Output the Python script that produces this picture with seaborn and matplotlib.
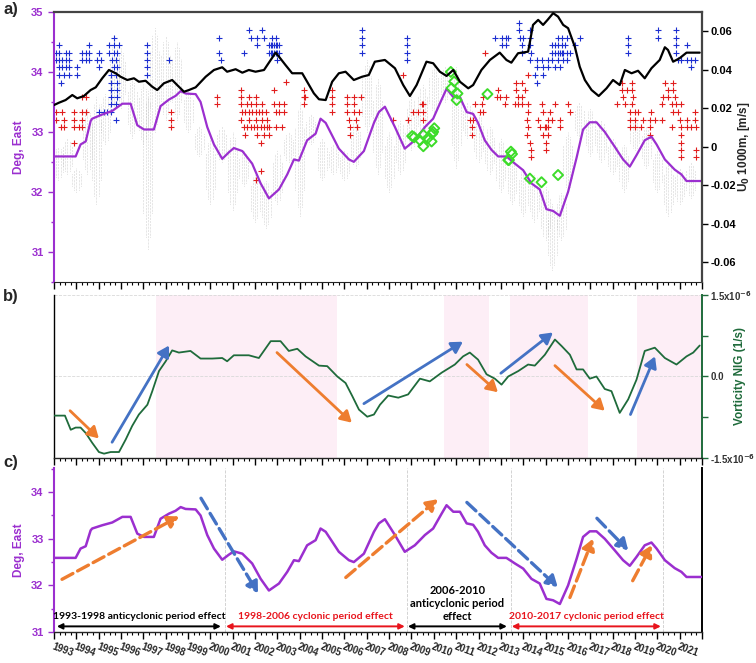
import matplotlib
matplotlib.use('Agg')
import matplotlib.pyplot as plt
import matplotlib.ticker as mticker
import seaborn as sns
import pandas as pd

# ---------------- data ----------------
# longitude of the jet axis (Deg, East), panels a) and c)
deg_year = [1993.0, 1993.97, 1994.19, 1994.42, 1994.64, 1994.71, 1995.16, 1995.61, 1996.06, 1996.43,
            1996.73, 1997.03, 1997.47, 1997.77, 1998.15, 1998.44, 1998.67, 1998.89, 1999.34, 1999.56,
            1999.86, 2000.16, 2000.53, 2000.83, 2001.05, 2001.43, 2001.87, 2002.25, 2002.62, 2003.07,
            2003.44, 2003.74, 2003.96, 2004.33, 2004.71, 2004.93, 2005.16, 2005.75, 2006.2, 2006.42,
            2006.87, 2007.32, 2007.54, 2007.81, 2008.26, 2008.7, 2009.15, 2009.6, 2009.97, 2010.35,
            2010.57, 2010.87, 2011.17, 2011.47, 2011.76, 2011.98, 2012.28, 2012.58, 2012.88, 2013.25,
            2013.63, 2014.0, 2014.37, 2014.74, 2015.04, 2015.34, 2015.64, 2016.01, 2016.39, 2016.68,
            2016.98, 2017.28, 2017.65, 2018.1, 2018.47, 2018.77, 2019.07, 2019.44, 2019.74, 2019.97,
            2020.34, 2020.78, 2021.08, 2021.31, 2021.98]
deg_east = [32.59, 32.59, 32.79, 32.84, 33.18, 33.22, 33.29, 33.35, 33.47, 33.47,
            33.11, 33.04, 33.04, 33.43, 33.54, 33.60, 33.68, 33.64, 33.63, 33.50,
            33.08, 32.79, 32.55, 32.66, 32.73, 32.68, 32.47, 32.14, 31.89, 32.04,
            32.29, 32.54, 32.52, 32.86, 32.97, 33.22, 33.15, 32.72, 32.54, 32.50,
            32.68, 33.15, 33.33, 33.42, 33.08, 32.72, 32.86, 33.08, 33.22, 33.54,
            33.72, 33.58, 33.58, 33.33, 33.30, 33.15, 32.86, 32.70, 32.59, 32.59,
            32.47, 32.36, 32.14, 32.04, 31.71, 31.68, 31.60, 32.00, 32.57, 33.04,
            33.16, 33.16, 33.00, 32.75, 32.54, 32.42, 32.61, 32.86, 32.92, 32.79,
            32.54, 32.37, 32.29, 32.18, 32.18]

# U0 at 1000 m (m/s), panel a) right axis
u0_year = [1993.0, 1993.22, 1993.52, 1993.82, 1994.04, 1994.34, 1994.64, 1994.87, 1995.16, 1995.46,
           1995.76, 1995.98, 1996.28, 1996.58, 1996.8, 1997.1, 1997.4, 1997.62, 1997.92, 1998.29,
           1998.59, 1998.82, 1999.04, 1999.34, 1999.79, 2000.16, 2000.53, 2000.75, 2001.13, 2001.43,
           2001.72, 2002.02, 2002.4, 2002.7, 2002.92, 2003.07, 2003.36, 2003.66, 2004.11, 2004.33,
           2004.63, 2004.86, 2005.16, 2005.45, 2005.75, 2006.05, 2006.42, 2006.79, 2007.09, 2007.36,
           2007.81, 2008.26, 2008.63, 2008.93, 2009.23, 2009.67, 2009.97, 2010.27, 2010.57, 2010.87,
           2011.17, 2011.54, 2011.76, 2012.13, 2012.51, 2012.95, 2013.25, 2013.47, 2013.77, 2014.22,
           2014.44, 2014.67, 2014.89, 2015.09, 2015.34, 2015.56, 2015.79, 2016.01, 2016.31, 2016.53,
           2016.76, 2017.06, 2017.38, 2017.73, 2018.02, 2018.32, 2018.55, 2018.85, 2019.14, 2019.44,
           2019.74, 2020.11, 2020.34, 2020.48, 2020.71, 2021.0, 2021.31, 2021.9]
u0_val = [0.0217, 0.0229, 0.0243, 0.0269, 0.0252, 0.0264, 0.0295, 0.0309, 0.0356, 0.0399,
          0.0382, 0.0364, 0.0347, 0.0356, 0.0338, 0.0343, 0.0312, 0.0295, 0.0330, 0.0347,
          0.0312, 0.0286, 0.0295, 0.0309, 0.0364, 0.0399, 0.0413, 0.0390, 0.0403, 0.0385,
          0.0399, 0.0390, 0.0399, 0.0451, 0.0489, 0.0468, 0.0425, 0.0382, 0.0382, 0.0338,
          0.0278, 0.0247, 0.0243, 0.0338, 0.0382, 0.0390, 0.0347, 0.0364, 0.0373, 0.0442,
          0.0451, 0.0408, 0.0321, 0.0264, 0.0321, 0.0442, 0.0434, 0.0390, 0.0368, 0.0399,
          0.0338, 0.0304, 0.0321, 0.0399, 0.0451, 0.0489, 0.0451, 0.0437, 0.0486, 0.0494,
          0.0633, 0.0659, 0.0633, 0.0659, 0.0694, 0.0676, 0.0633, 0.0616, 0.0520, 0.0416,
          0.0347, 0.0295, 0.0264, 0.0304, 0.0347, 0.0321, 0.0399, 0.0382, 0.0395, 0.0356,
          0.0408, 0.0451, 0.0517, 0.0503, 0.0442, 0.0460, 0.0489, 0.0489]

# vorticity NIG (x1e-6 1/s), panel b)
vort_year = [1993.0, 1993.49, 1993.75, 1993.97, 1994.19, 1994.42, 1994.71, 1995.01, 1995.24, 1995.54,
             1995.91, 1996.21, 1996.5, 1996.8, 1997.18, 1997.4, 1997.7, 1998.0, 1998.29, 1998.59,
             1999.11, 1999.56, 2000.08, 2000.53, 2000.75, 2001.05, 2001.72, 2002.17, 2002.7, 2003.14,
             2003.51, 2003.89, 2004.26, 2004.86, 2005.23, 2005.68, 2006.05, 2006.35, 2006.65, 2007.02,
             2007.32, 2007.59, 2007.96, 2008.41, 2008.85, 2009.38, 2009.82, 2010.35, 2010.94, 2011.31,
             2011.61, 2011.98, 2012.36, 2012.73, 2013.03, 2013.33, 2013.78, 2014.22, 2014.52, 2014.97,
             2015.42, 2015.72, 2016.09, 2016.39, 2016.68, 2016.98, 2017.28, 2017.65, 2017.95, 2018.32,
             2018.7, 2019.07, 2019.44, 2019.89, 2020.34, 2020.86, 2021.31, 2021.61, 2021.9]
vort_val = [-0.72, -0.72, -0.98, -0.94, -0.94, -1.04, -1.22, -1.39, -1.42, -1.39,
            -1.39, -1.16, -0.91, -0.70, -0.52, -0.27, 0.10, 0.28, 0.48, 0.44,
            0.47, 0.33, 0.33, 0.34, 0.28, 0.39, 0.39, 0.34, 0.65, 0.65,
            0.47, 0.51, 0.37, 0.20, 0.19, 0.00, -0.12, -0.36, -0.61, -0.74,
            -0.70, -0.52, -0.35, -0.39, -0.33, -0.04, -0.09, 0.07, 0.22, 0.37,
            0.44, 0.31, 0.04, -0.04, -0.15, 0.00, 0.10, 0.22, 0.20, 0.40,
            0.68, 0.56, 0.40, 0.13, 0.13, -0.04, 0.00, -0.23, -0.27, -0.67,
            -0.42, -0.06, 0.47, 0.53, 0.34, 0.22, 0.37, 0.44, 0.57]

# grey daily positions in panel a): range of the vertical streaks
gray_year = [1993.2, 1993.6, 1994.0, 1994.5, 1994.9, 1995.3, 1995.7, 1996.0, 1996.5, 1997.0,
             1997.2, 1997.5, 1998.0, 1998.5, 1999.0, 1999.5, 2000.0, 2000.5, 2001.0, 2001.5,
             2002.0, 2002.5, 2003.0, 2003.5, 2004.0, 2004.5, 2005.0, 2005.5, 2006.0, 2006.5,
             2007.0, 2007.5, 2008.0, 2008.5, 2009.0, 2009.5, 2010.0, 2010.5, 2011.0, 2011.5,
             2012.0, 2012.5, 2013.0, 2013.5, 2014.0, 2014.5, 2015.0, 2015.3, 2015.7, 2016.0,
             2016.5, 2017.0, 2017.5, 2018.0, 2018.5, 2019.0, 2019.5, 2020.0, 2020.5, 2021.0, 2021.5]
gray_lo = [32.2, 32.3, 32.0, 32.3, 31.8, 32.8, 33.4, 33.4, 32.9, 32.8,
           31.05, 33.0, 33.2, 33.2, 33.0, 32.6, 31.8, 32.5, 31.7, 32.1,
           31.5, 31.4, 31.8, 32.5, 31.6, 32.8, 32.2, 32.3, 32.2, 32.4,
           33.0, 32.3, 32.0, 32.3, 32.7, 32.9, 33.3, 33.5, 32.4, 32.9,
           32.5, 32.3, 32.0, 31.8, 31.6, 31.5, 31.2, 30.7, 31.2, 32.0,
           32.9, 32.6, 32.5, 32.3, 32.0, 32.7, 32.4, 32.0, 31.6, 31.8, 31.9]
gray_hi = [32.75, 32.9, 32.4, 33.4, 33.6, 33.65, 34.5, 34.4, 33.9, 33.8,
           33.7, 34.75, 34.6, 34.5, 33.7, 33.1, 32.9, 33.1, 33.0, 32.7,
           32.3, 32.2, 32.7, 33.0, 33.5, 33.3, 32.9, 32.8, 32.7, 33.2,
           34.2, 33.9, 33.0, 33.2, 33.6, 33.8, 34.1, 34.1, 34.1, 33.5,
           33.3, 33.1, 32.9, 32.6, 32.4, 32.3, 32.1, 31.8, 32.0, 33.0,
           33.5, 33.4, 33.2, 32.9, 32.8, 33.2, 33.1, 32.7, 32.5, 32.4, 32.5]

# blue crosses (year, Deg East)
blue_pts = [(1993.22, 34.45), (1993.07, 34.31), (1993.22, 34.31), (1993.52, 34.31), (1993.67, 34.31),
            (1993.07, 34.2), (1993.22, 34.2), (1993.37, 34.2), (1993.52, 34.2), (1993.67, 34.2),
            (1993.22, 34.08), (1993.37, 34.08), (1993.52, 34.08), (1993.67, 34.08), (1994.04, 34.08),
            (1993.22, 33.95), (1993.45, 33.95), (1993.67, 33.95), (1994.04, 33.95), (1993.30, 33.82),
            (1994.57, 34.45), (1994.27, 34.31), (1994.42, 34.31), (1994.57, 34.31), (1995.01, 34.31),
            (1994.27, 34.2), (1994.42, 34.2), (1994.57, 34.2), (1994.94, 34.2), (1995.09, 34.2), (1995.01, 34.08),
            (1995.68, 34.56), (1995.46, 34.45), (1995.68, 34.45), (1995.91, 34.45), (1995.46, 34.31),
            (1995.68, 34.31), (1995.83, 34.31), (1995.61, 34.2), (1995.76, 34.2), (1995.68, 34.08),
            (1995.83, 34.08), (1995.54, 33.95), (1995.76, 33.95), (1995.54, 33.82), (1995.83, 33.82),
            (1995.54, 33.7), (1995.83, 33.7), (1995.54, 33.58), (1995.83, 33.58), (1995.54, 33.46),
            (1995.76, 33.46), (1995.01, 33.33), (1995.24, 33.33), (1995.39, 33.33), (1995.54, 33.33),
            (1995.76, 33.2), (1997.18, 34.45), (1997.18, 34.31), (1997.18, 34.2), (1997.18, 34.08),
            (1997.18, 33.95), (1998.15, 34.2), (2000.38, 34.56), (2000.38, 34.31), (2000.46, 34.2),
            (2001.5, 34.31), (2001.72, 34.7), (2002.32, 34.7), (2001.8, 34.56), (2002.1, 34.56),
            (2002.4, 34.56), (2002.77, 34.56), (2002.92, 34.56), (2002.1, 34.45), (2002.62, 34.45),
            (2002.7, 34.45), (2002.77, 34.45), (2002.84, 34.45), (2002.92, 34.45), (2002.99, 34.45),
            (2003.07, 34.45), (2002.62, 34.31), (2002.7, 34.31), (2002.77, 34.31), (2002.84, 34.31),
            (2002.92, 34.31), (2002.99, 34.31), (2003.07, 34.31), (2002.99, 34.2), (2006.8, 34.7),
            (2006.8, 34.56), (2006.8, 34.45), (2006.8, 34.31), (2008.78, 34.56), (2008.78, 34.45),
            (2008.78, 34.31), (2008.78, 34.2), (2013.81, 34.81), (2013.81, 34.7), (2014.30, 34.7),
            (2012.73, 34.56), (2013.03, 34.56), (2013.25, 34.56), (2013.33, 34.56), (2013.85, 34.56),
            (2014.0, 34.56), (2014.30, 34.56), (2015.56, 34.56), (2015.72, 34.56), (2015.94, 34.56),
            (2016.53, 34.56), (2013.03, 34.45), (2013.25, 34.45), (2013.93, 34.45), (2014.30, 34.45),
            (2015.27, 34.45), (2015.42, 34.45), (2015.56, 34.45), (2015.72, 34.45), (2015.86, 34.45),
            (2016.31, 34.45), (2013.93, 34.31), (2014.37, 34.31), (2015.27, 34.31), (2015.42, 34.31),
            (2015.56, 34.31), (2015.64, 34.31), (2015.72, 34.31), (2015.79, 34.31), (2015.94, 34.31),
            (2016.08, 34.31), (2014.30, 34.2), (2014.60, 34.2), (2014.82, 34.2), (2015.12, 34.2),
            (2015.27, 34.2), (2015.56, 34.2), (2015.79, 34.2), (2015.94, 34.2), (2014.60, 34.08),
            (2014.89, 34.08), (2015.12, 34.08), (2015.42, 34.08), (2015.64, 34.08), (2014.52, 33.95),
            (2014.89, 33.95), (2014.60, 33.82), (2018.7, 34.56), (2018.7, 34.45), (2018.7, 34.31),
            (2020.04, 34.7), (2020.04, 34.56), (2020.86, 34.7), (2020.86, 34.56), (2020.86, 34.45),
            (2020.86, 34.31), (2021.31, 34.45), (2020.93, 34.2), (2021.08, 34.2), (2021.31, 34.2),
            (2021.53, 34.2), (2021.68, 34.2), (2021.53, 34.08)]

# red crosses (year, Deg East)
red_pts = [(1994.27, 33.58), (1994.42, 33.58), (1993.07, 33.33), (1993.37, 33.33), (1993.9, 33.33),
           (1994.27, 33.33), (1994.42, 33.33), (1993.07, 33.2), (1993.45, 33.2), (1993.9, 33.2),
           (1994.27, 33.2), (1993.3, 33.08), (1993.45, 33.08), (1993.9, 33.08), (1994.12, 33.08),
           (1994.27, 33.08), (1993.9, 32.82), (1998.22, 33.33), (1998.22, 33.2), (1998.22, 33.08),
           (2000.31, 33.58), (2000.31, 33.46), (2001.35, 33.7), (2002.84, 33.7), (2001.35, 33.58),
           (2001.72, 33.58), (2002.02, 33.58), (2001.35, 33.46), (2001.65, 33.46), (2001.8, 33.46),
           (2002.02, 33.46), (2002.32, 33.46), (2002.84, 33.46), (2003.07, 33.46), (2003.29, 33.46),
           (2001.42, 33.33), (2001.57, 33.33), (2001.72, 33.33), (2001.87, 33.33), (2002.02, 33.33),
           (2002.17, 33.33), (2002.32, 33.33), (2002.47, 33.33), (2002.92, 33.33), (2003.07, 33.33),
           (2003.29, 33.33), (2001.35, 33.2), (2001.72, 33.2), (2002.02, 33.2), (2002.32, 33.2),
           (2002.54, 33.2), (2001.5, 33.08), (2001.65, 33.08), (2001.8, 33.08), (2001.95, 33.08),
           (2002.1, 33.08), (2002.25, 33.08), (2002.4, 33.08), (2002.54, 33.08), (2002.62, 33.08),
           (2002.92, 33.08), (2003.22, 33.08), (2001.57, 32.95), (2002.1, 32.95), (2002.4, 32.95),
           (2002.62, 32.95), (2002.25, 32.82), (2002.25, 32.34), (2002.02, 32.2), (2003.37, 33.84),
           (2004.19, 33.7), (2004.19, 33.58), (2004.24, 33.58), (2004.19, 33.46), (2005.44, 33.7),
           (2005.44, 33.58), (2005.44, 33.46), (2005.44, 33.33), (2006.12, 33.58), (2006.42, 33.58),
           (2006.72, 33.58), (2006.12, 33.46), (2006.42, 33.46), (2006.12, 33.33), (2006.42, 33.33),
           (2006.65, 33.33), (2006.2, 33.2), (2006.5, 33.2), (2006.27, 33.08), (2006.57, 33.08),
           (2006.27, 32.95), (2008.63, 33.95), (2008.18, 33.2), (2009.45, 33.46), (2009.53, 33.46),
           (2009.08, 33.33), (2009.3, 33.33), (2009.53, 33.33), (2008.85, 33.2), (2009.53, 33.2),
           (2011.61, 33.2), (2011.76, 33.2), (2011.69, 33.08), (2011.69, 32.95), (2011.84, 33.46),
           (2012.14, 33.46), (2012.06, 33.33), (2012.21, 33.33), (2012.21, 33.58), (2012.29, 34.31),
           (2013.7, 33.82), (2013.93, 33.82), (2012.88, 33.7), (2013.7, 33.7), (2014.08, 33.7),
           (2012.81, 33.58), (2012.96, 33.58), (2013.25, 33.58), (2013.78, 33.58), (2013.93, 33.58),
           (2013.18, 33.46), (2013.63, 33.46), (2013.78, 33.46), (2013.93, 33.46), (2014.22, 33.46),
           (2014.82, 33.46), (2015.42, 33.46), (2016.01, 33.46), (2014.22, 33.33), (2014.89, 33.33),
           (2015.19, 33.33), (2016.08, 33.33), (2014.15, 33.2), (2014.67, 33.2), (2015.12, 33.2),
           (2015.27, 33.2), (2015.64, 33.2), (2014.22, 33.08), (2014.74, 33.08), (2014.97, 33.08),
           (2015.04, 33.08), (2015.12, 33.08), (2015.64, 33.08), (2014.15, 32.95), (2014.89, 32.95),
           (2015.12, 32.95), (2014.3, 32.82), (2015.04, 32.82), (2014.37, 32.7), (2015.04, 32.7),
           (2014.37, 32.58), (2014.22, 33.95), (2018.4, 33.82), (2018.85, 33.82), (2020.34, 33.82),
           (2020.71, 33.82), (2018.4, 33.7), (2018.63, 33.7), (2018.85, 33.7), (2020.49, 33.7),
           (2020.71, 33.7), (2018.47, 33.58), (2018.92, 33.58), (2020.26, 33.58), (2020.49, 33.58),
           (2020.79, 33.58), (2018.18, 33.46), (2018.55, 33.46), (2018.85, 33.46), (2020.19, 33.46),
           (2020.64, 33.46), (2020.86, 33.46), (2021.08, 33.46), (2018.77, 33.33), (2019.0, 33.33),
           (2019.14, 33.33), (2019.74, 33.33), (2020.71, 33.33), (2020.93, 33.33), (2021.68, 33.33),
           (2018.77, 33.2), (2019.0, 33.2), (2019.37, 33.2), (2019.67, 33.2), (2019.89, 33.2),
           (2020.19, 33.2), (2021.01, 33.2), (2021.31, 33.2), (2021.68, 33.2), (2018.77, 33.08),
           (2019.0, 33.08), (2019.29, 33.08), (2019.67, 33.08), (2020.64, 33.08), (2021.08, 33.08),
           (2021.31, 33.08), (2021.53, 33.08), (2021.75, 33.08), (2019.67, 32.95), (2021.08, 32.95),
           (2021.08, 32.82), (2021.08, 32.7), (2021.75, 32.7), (2021.08, 32.58), (2021.75, 32.58)]

# green diamonds (year, Deg East)
green_pts = [(2009.03, 32.93), (2009.12, 32.91), (2009.38, 32.86), (2009.53, 32.95), (2009.53, 32.76),
             (2009.72, 32.89), (2009.9, 32.84), (2009.93, 32.97), (2010.02, 33.06), (2009.97, 33.0),
             (2010.76, 34.0), (2010.91, 33.84), (2010.79, 33.73), (2011.06, 33.64), (2011.02, 33.53),
             (2012.4, 33.63), (2013.45, 32.67), (2013.5, 32.63), (2013.36, 32.53), (2013.33, 32.53),
             (2014.3, 32.22), (2014.82, 32.16), (2015.56, 32.28)]

# panel b) shaded periods
pink_spans = [(1997.55, 2005.65), (2010.45, 2012.45), (2013.4, 2016.9), (2019.1, 2022.0)]

# panel b) trend arrows (x0, y0, x1, y1) in years / 1e-6 1/s
b_up = [(1995.6, -1.21, 1998.15, 0.57), (2006.87, -0.50, 2011.3, 0.64),
        (2013.0, 0.06, 2015.33, 0.81), (2018.8, -0.70, 2019.9, 0.37)]
b_down = [(1993.72, -0.63, 1995.01, -1.14), (2002.98, 0.44, 2006.33, -0.85),
          (2011.48, 0.22, 2012.87, -0.29), (2015.42, 0.20, 2017.65, -0.63)]

# panel c) dashed trend arrows (x0, y0, x1, y1) in years / Deg East
c_up = [(1993.36, 32.13, 1998.6, 33.48), (2006.06, 32.17, 2010.18, 33.85),
        (2016.09, 31.74, 2017.12, 33.0), (2018.9, 32.1, 2019.75, 32.86)]
c_down = [(1999.58, 33.87, 2002.13, 31.83), (2011.48, 33.78, 2015.55, 31.96),
          (2017.3, 33.44, 2018.7, 32.75)]

# panel c) periods
period_x0 = [1993.13, 2000.70, 2008.84, 2013.49]
period_x1 = [2000.47, 2008.70, 2013.27, 2020.16]
period_text = ['1993-1998 anticyclonic period effect', '1998-2006 cyclonic period effect',
               '2006-2010\nanticyclonic period\neffect', '2010-2017 cyclonic period effect']
period_color = ['black', '#e8141c', 'black', '#e8141c']
period_bounds = [2000.65, 2008.8, 2013.45, 2020.25]

years = list(range(1993, 2023))

# ---------------- style ----------------
sns.set_style('ticks')
plt.rcParams['font.family'] = ['Liberation Sans', 'DejaVu Sans']
plt.rcParams['font.weight'] = 'bold'
plt.rcParams['axes.labelweight'] = 'bold'

PURPLE = '#9b2fcf'
GREEN = '#1f6b3b'
ORANGE = '#ee7d2f'
BLUE = '#4472c4'

fig = plt.figure(figsize=(7.56, 6.63), dpi=100)
ax_a = fig.add_axes([0.0714, 0.5751, 0.8571, 0.4068])
ax_b = fig.add_axes([0.0714, 0.3092, 0.8571, 0.2459])
ax_c = fig.add_axes([0.0714, 0.0468, 0.8571, 0.2474])


def year_axis(ax):
    ax.set_xlim(1993, 2022)
    ax.xaxis.set_major_locator(mticker.MultipleLocator(1))
    ax.xaxis.set_minor_locator(mticker.MultipleLocator(0.25))
    ax.tick_params(axis='x', which='major', length=5, width=1, direction='out', color='black')
    ax.tick_params(axis='x', which='minor', length=2.5, width=0.8, direction='out', color='black')
    ax.set_xlabel('')


# ---------------- panel a ----------------
# grey streaks: densest in the middle of each range, thinner towards the sides
for off, frac in ((-0.2, 0.55), (-0.1, 0.85), (0.0, 1.0), (0.1, 0.85), (0.2, 0.55)):
    mids = [(lo + hi) / 2 for lo, hi in zip(gray_lo, gray_hi)]
    halfs = [(hi - lo) / 2 * frac for lo, hi in zip(gray_lo, gray_hi)]
    ax_a.vlines([x + off for x in gray_year], [m - h for m, h in zip(mids, halfs)],
                [m + h for m, h in zip(mids, halfs)], colors='#999999',
                linestyles=(0, (0.5, 1.6)), lw=0.5, zorder=1)

blue_df = pd.DataFrame(blue_pts, columns=['year', 'deg'])
red_df = pd.DataFrame(red_pts, columns=['year', 'deg'])
green_df = pd.DataFrame(green_pts, columns=['year', 'deg'])
sns.scatterplot(data=blue_df, x='year', y='deg', marker='+', s=16, color='#1c2ed0',
                linewidth=0.8, ax=ax_a, zorder=2)
sns.scatterplot(data=red_df, x='year', y='deg', marker='+', s=16, color='#e11d1d',
                linewidth=0.8, ax=ax_a, zorder=2)

deg_df = pd.DataFrame({'year': deg_year, 'deg': deg_east})
sns.lineplot(data=deg_df, x='year', y='deg', color=PURPLE, lw=1.6, ax=ax_a, zorder=3)
sns.scatterplot(data=green_df, x='year', y='deg', marker='D', s=26, ax=ax_a, zorder=4)
dia = ax_a.collections[-1]
dia.set_facecolor('none')
dia.set_edgecolor('#3ddc2a')
dia.set_linewidth(1.4)

ax_a.set_ylim(30.5, 35)
ax_a.set_yticks([31, 32, 33, 34, 35])
ax_a.yaxis.set_minor_locator(mticker.MultipleLocator(0.5))
ax_a.tick_params(axis='y', which='both', colors=PURPLE, labelsize=8, length=4, width=1)
ax_a.tick_params(axis='y', which='minor', length=2.5)
ax_a.set_ylabel('Deg, East', color=PURPLE, fontsize=8.5)
ax_a.yaxis.set_label_coords(-0.045, 0.5)
year_axis(ax_a)
ax_a.tick_params(axis='x', which='both', labelbottom=False)
ax_a.spines['left'].set_color(PURPLE)
ax_a.spines['left'].set_linewidth(1.5)
ax_a.spines['top'].set_color('#444444')
ax_a.spines['top'].set_linewidth(1.6)
ax_a.spines['right'].set_visible(False)
ax_a.spines['bottom'].set_linewidth(0.8)

ax_a2 = ax_a.twinx()
u0_df = pd.DataFrame({'year': u0_year, 'u0': u0_val})
sns.lineplot(data=u0_df, x='year', y='u0', color='black', lw=1.6, ax=ax_a2)
ax_a2.set_ylim(-0.07, 0.07)
ax_a2.set_yticks([-0.06, -0.04, -0.02, 0, 0.02, 0.04, 0.06])
ax_a2.set_yticklabels(['-0.06', '-0.04', '-0.02', '0', '0.02', '0.04', '0.06'])
ax_a2.tick_params(axis='y', labelsize=8, length=4, width=1, pad=2, colors='black')
ax_a2.set_ylabel(r'U$_\mathbf{0}$ 1000m, [m/s]', fontsize=8.5)
ax_a2.yaxis.set_label_coords(1.052, 0.5)
for s in ('left', 'top', 'bottom'):
    ax_a2.spines[s].set_visible(False)
ax_a2.spines['right'].set_color('#444444')
ax_a2.spines['right'].set_linewidth(1.6)
ax_a2.set_xlim(1993, 2022)

# ---------------- panel b ----------------
for x0, x1 in pink_spans:
    ax_b.axvspan(x0, x1, color='#fdeef6', lw=0, zorder=0)
vort_df = pd.DataFrame({'year': vort_year, 'vort': [v * 1e-6 for v in vort_val]})
sns.lineplot(data=vort_df, x='year', y='vort', color=GREEN, lw=1.3, ax=ax_b, zorder=3)
for x0, y0, x1, y1 in b_up:
    ax_b.annotate('', xy=(x1, y1 * 1e-6), xytext=(x0, y0 * 1e-6),
                  arrowprops=dict(arrowstyle='-|>,head_length=0.55,head_width=0.32', color=BLUE,
                                  lw=2.0, mutation_scale=12, shrinkA=0, shrinkB=0), zorder=4)
for x0, y0, x1, y1 in b_down:
    ax_b.annotate('', xy=(x1, y1 * 1e-6), xytext=(x0, y0 * 1e-6),
                  arrowprops=dict(arrowstyle='-|>,head_length=0.55,head_width=0.32', color=ORANGE,
                                  lw=2.0, mutation_scale=12, shrinkA=0, shrinkB=0), zorder=4)
ax_b.set_ylim(-1.5e-6, 1.5e-6)
ax_b.yaxis.tick_right()
ax_b.yaxis.set_label_position('right')
ax_b.set_yticks([-1.5e-6, 0, 1.5e-6])
ax_b.set_yticklabels([r'-1.5x10$^{\mathbf{-6}}$', '0.0', r'1.5x10$^{\mathbf{-6}}$'])
ax_b.yaxis.set_minor_locator(mticker.MultipleLocator(0.75e-6))
ax_b.tick_params(axis='y', which='both', length=4, width=1, color=GREEN, labelsize=7,
                 labelcolor='#333333', pad=2, left=False, right=True)
ax_b.tick_params(axis='y', which='minor', length=4)
ax_b.yaxis.grid(True, which='major', ls='--', color='#d9d9d9', lw=0.6)
ax_b.set_ylabel('Vorticity NIG (1/s)', color=GREEN, fontsize=8.5)
ax_b.yaxis.set_label_coords(1.05, 0.5)
year_axis(ax_b)
ax_b.tick_params(axis='x', which='both', labelbottom=False)
ax_b.spines['top'].set_visible(False)
ax_b.spines['right'].set_color(GREEN)
ax_b.spines['right'].set_linewidth(1.4)
ax_b.spines['left'].set_color('black')
ax_b.spines['left'].set_linewidth(1.0)
ax_b.spines['bottom'].set_linewidth(1.0)

# ---------------- panel c ----------------
for xb in period_bounds:
    ax_c.axvline(xb, color='#cccccc', ls='--', lw=0.6, zorder=0)
sns.lineplot(data=deg_df, x='year', y='deg', color=PURPLE, lw=1.8, ax=ax_c, zorder=3)
for x0, y0, x1, y1 in c_up:
    ax_c.annotate('', xy=(x1, y1), xytext=(x0, y0),
                  arrowprops=dict(arrowstyle='-|>,head_length=0.55,head_width=0.32', color=ORANGE,
                                  lw=2.4, ls='--', mutation_scale=12, shrinkA=0, shrinkB=0), zorder=4)
for x0, y0, x1, y1 in c_down:
    ax_c.annotate('', xy=(x1, y1), xytext=(x0, y0),
                  arrowprops=dict(arrowstyle='-|>,head_length=0.55,head_width=0.32', color=BLUE,
                                  lw=2.4, ls='--', mutation_scale=12, shrinkA=0, shrinkB=0), zorder=4)
for x0, x1, txt, col in zip(period_x0, period_x1, period_text, period_color):
    ax_c.annotate('', xy=(x1, 31.12), xytext=(x0, 31.12),
                  arrowprops=dict(arrowstyle='<|-|>', color=col, lw=1.4, mutation_scale=8,
                                  shrinkA=0, shrinkB=0))
    multi = '\n' in txt
    ax_c.text((x0 + x1) / 2, 31.61 if multi else 31.33, txt, color=col, ha='center', va='center',
              fontsize=8 if multi else 7.5, family=['Lato', 'DejaVu Sans'], weight='bold',
              linespacing=1.2)

ax_c.set_ylim(31, 34.52)
ax_c.set_yticks([31, 32, 33, 34])
ax_c.yaxis.set_minor_locator(mticker.MultipleLocator(0.5))
ax_c.tick_params(axis='y', which='both', colors=PURPLE, labelsize=8, length=4, width=1)
ax_c.tick_params(axis='y', which='minor', length=2.5)
ax_c.set_ylabel('Deg, East', color=PURPLE, fontsize=8.5)
ax_c.yaxis.set_label_coords(-0.045, 0.5)
year_axis(ax_c)
ax_c.set_xticks(years)
ax_c.set_xticklabels([str(y) if y < 2022 else '' for y in years])
ax_c.tick_params(axis='x', which='major', labelsize=7, pad=2)
for lbl in ax_c.get_xticklabels():
    lbl.set_rotation(-20)
    lbl.set_ha('left')
    lbl.set_va('top')
    lbl.set_rotation_mode('anchor')
ax_c.spines['top'].set_visible(False)
ax_c.spines['left'].set_color(PURPLE)
ax_c.spines['left'].set_linewidth(1.5)
ax_c.spines['right'].set_color('black')
ax_c.spines['right'].set_linewidth(1.4)
ax_c.spines['bottom'].set_linewidth(1.0)

# panel letters
fig.text(0.004, 0.985, 'a)', fontsize=12, weight='bold', va='center')
fig.text(0.004, 0.553, 'b)', fontsize=12, weight='bold', va='center')
fig.text(0.004, 0.302, 'c)', fontsize=12, weight='bold', va='center')

fig.savefig('out.png', dpi=100)
